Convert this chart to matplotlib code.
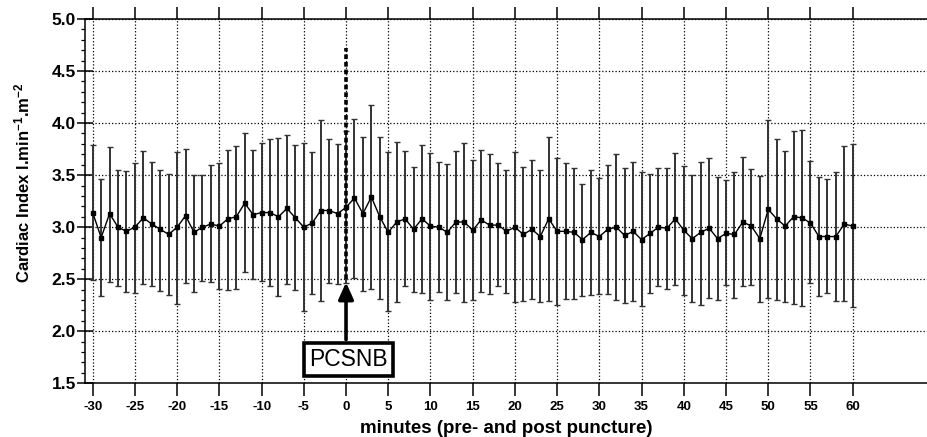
import numpy as np
import matplotlib
matplotlib.use('Agg')
import matplotlib.pyplot as plt
from matplotlib.ticker import MultipleLocator, FixedLocator, FormatStrFormatter

plt.rcParams['font.family'] = ['Liberation Sans', 'DejaVu Sans']
plt.rcParams['mathtext.fontset'] = 'custom'
plt.rcParams['mathtext.bf'] = 'Liberation Sans:bold'
plt.rcParams['mathtext.rm'] = 'Liberation Sans:bold'
plt.rcParams['mathtext.default'] = 'bf'
plt.rcParams['axes.unicode_minus'] = False

minutes = np.arange(-30, 61)

ci_mean = [3.14, 2.90, 3.13, 3.00, 2.96, 3.00, 3.09, 3.03, 2.98, 2.93,
           3.00, 3.11, 2.95, 3.00, 3.03, 3.01, 3.08, 3.10, 3.23, 3.12,
           3.14, 3.14, 3.10, 3.18, 3.09, 3.00, 3.04, 3.16, 3.16, 3.13,
           3.19, 3.28, 3.13, 3.29, 3.10, 2.95, 3.05, 3.08, 2.98, 3.08,
           3.01, 3.00, 2.95, 3.05, 3.05, 2.97, 3.07, 3.02, 3.02, 2.96,
           3.00, 2.93, 2.98, 2.91, 3.08, 2.96, 2.96, 2.95, 2.88, 2.95,
           2.91, 2.98, 3.00, 2.92, 2.96, 2.88, 2.94, 3.00, 2.99, 3.08,
           2.97, 2.89, 2.95, 2.99, 2.89, 2.94, 2.93, 3.05, 3.01, 2.89,
           3.17, 3.08, 3.01, 3.10, 3.09, 3.04, 2.91, 2.91, 2.91, 3.03,
           3.01]

ci_upper = [3.79, 3.46, 3.77, 3.55, 3.54, 3.62, 3.73, 3.63, 3.55, 3.51,
            3.72, 3.75, 3.50, 3.50, 3.60, 3.62, 3.74, 3.78, 3.90, 3.74,
            3.81, 3.85, 3.86, 3.89, 3.79, 3.81, 3.72, 4.03, 3.85, 3.80,
            3.92, 4.04, 3.87, 4.17, 3.87, 3.72, 3.82, 3.73, 3.58, 3.79,
            3.71, 3.63, 3.61, 3.73, 3.81, 3.65, 3.74, 3.70, 3.62, 3.55,
            3.72, 3.58, 3.65, 3.55, 3.87, 3.66, 3.62, 3.57, 3.41, 3.55,
            3.47, 3.60, 3.70, 3.57, 3.63, 3.53, 3.51, 3.57, 3.57, 3.71,
            3.59, 3.50, 3.63, 3.66, 3.48, 3.45, 3.53, 3.67, 3.56, 3.49,
            4.03, 3.85, 3.73, 3.92, 3.93, 3.64, 3.48, 3.46, 3.53, 3.78,
            3.80]

ci_lower = [2.49, 2.34, 2.47, 2.43, 2.38, 2.37, 2.45, 2.43, 2.39, 2.35,
            2.26, 2.46, 2.38, 2.48, 2.47, 2.41, 2.40, 2.41, 2.57, 2.50,
            2.48, 2.43, 2.34, 2.45, 2.40, 2.19, 2.36, 2.29, 2.46, 2.45,
            2.46, 2.51, 2.39, 2.41, 2.31, 2.19, 2.28, 2.43, 2.38, 2.37,
            2.30, 2.38, 2.30, 2.37, 2.28, 2.30, 2.38, 2.36, 2.43, 2.37,
            2.28, 2.29, 2.31, 2.28, 2.29, 2.25, 2.31, 2.31, 2.34, 2.35,
            2.36, 2.36, 2.30, 2.27, 2.29, 2.24, 2.37, 2.43, 2.41, 2.44,
            2.35, 2.28, 2.25, 2.32, 2.30, 2.44, 2.32, 2.43, 2.44, 2.28,
            2.32, 2.30, 2.28, 2.26, 2.24, 2.46, 2.34, 2.37, 2.29, 2.29,
            2.23]

x_ticks = list(range(-30, 61, 5))

mean = np.array(ci_mean)
yerr = [mean - np.array(ci_lower), np.array(ci_upper) - mean]

fig = plt.figure(figsize=(9.27, 4.37), dpi=100)
ax = fig.add_axes([0.0917, 0.1229, 0.9083, 0.8336])

ax.errorbar(minutes, mean, yerr=yerr, fmt='none', ecolor='#333333',
            elinewidth=1.4, capsize=2.3, capthick=1.0, zorder=3)
ax.plot(minutes, mean, color='black', lw=1.0, marker='s', markersize=3.3,
        zorder=4)

# puncture marker
ax.plot([0, 0], [2.50, 4.72], color='black', lw=2.6,
        linestyle=(0, (1.3, 0.8)), zorder=5)
ax.annotate('', xy=(0, 2.47), xytext=(0, 1.92),
            arrowprops=dict(arrowstyle='-|>,head_length=1.0,head_width=0.45',
                            color='black', lw=2.6, shrinkA=0, shrinkB=0),
            zorder=6)
ax.text(0.3, 1.73, 'PCSNB', ha='center', va='center', fontsize=16.5,
        bbox=dict(boxstyle='square,pad=0.22', fc='white', ec='black', lw=2.6),
        zorder=7)

ax.set_xlim(-30.91, 68.8)
ax.set_ylim(1.5, 5.0)
ax.xaxis.set_major_locator(FixedLocator(x_ticks))
ax.yaxis.set_major_locator(MultipleLocator(0.5))
ax.yaxis.set_minor_locator(MultipleLocator(0.1))
ax.yaxis.set_major_formatter(FormatStrFormatter('%.1f'))

ax.grid(True, which='major', color='black', linestyle=':', lw=0.9)
ax.set_axisbelow(True)

ax.tick_params(axis='x', which='major', direction='out', length=9, width=1.1,
               top=True, labeltop=False, labelsize=9.5, pad=4)
ax.tick_params(axis='y', which='major', direction='inout', length=11,
               width=1.1, labelsize=12.5, pad=1)
ax.tick_params(axis='y', which='minor', direction='out', length=3, width=0.9)
for lab in ax.get_xticklabels() + ax.get_yticklabels():
    lab.set_fontweight('bold')

for s in ['left', 'top', 'bottom']:
    ax.spines[s].set_linewidth(1.1)
ax.spines['right'].set_visible(False)

ax.set_xlabel('minutes (pre- and post puncture)', fontsize=13.5,
              fontweight='bold')
ax.xaxis.set_label_coords(0.5, -0.102)
ax.set_ylabel(r'Cardiac Index l.min$^{-1}$.m$^{-2}$', fontsize=12,
              fontweight='bold')
ax.yaxis.set_label_coords(-0.062, 0.55)

fig.savefig('out.png', dpi=100)
